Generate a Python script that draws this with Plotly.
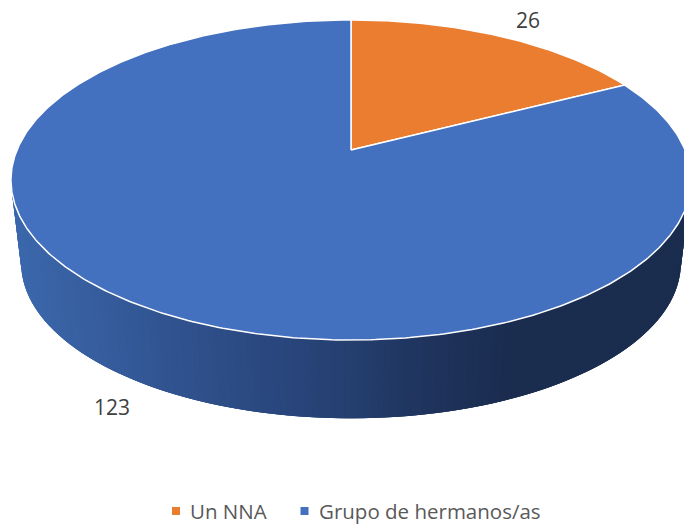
import numpy as np
import plotly.graph_objects as go

categories = ["Un NNA", "Grupo de hermanos/as"]
values = [26, 123]
slice_colors = ["#EB7D31", "#4371C0"]

W, H = 684, 527
CX, CY = 351, 150          # pie apex on the page
A, B, K = 334, 154.4, 0.1875   # perspective of the pie disc
DEPTH, SHRINK = 84, 0.97   # the lower rim of the pie wall

def project(theta, scale=1.0, dy=0.0):
    s, c = np.sin(theta), np.cos(theta)
    d = 1 + K * c
    return CX + scale * A * s / d, CY + dy - scale * B * c / d

def wall_color(x):
    xs = [12, 110, 200, 290, 351, 420, 480, 520, 684]
    rs = [60, 54, 47, 41, 37, 32, 28, 26, 26]
    gs = [105, 92, 80, 70, 63, 53, 47, 45, 45]
    bs = [173, 156, 139, 124, 111, 95, 84, 79, 79]
    return "rgb(%d,%d,%d)" % (np.interp(x, xs, rs), np.interp(x, xs, gs), np.interp(x, xs, bs))

fig = go.Figure()

# wall, as overlapping strips painted from right to left so no seams show
edge = np.arccos(-K)
angles = np.linspace(edge, 2 * np.pi - edge, 171)
for i in range(len(angles) - 1):
    ts = angles[i:i + 4]
    xt, yt = project(ts)
    xb, yb = project(ts[::-1], SHRINK, DEPTH)
    col = wall_color((xt[:2].mean() + xb[-2:].mean()) / 2)
    fig.add_trace(go.Scatter(
        x=np.r_[xt, xb], y=np.r_[yt, yb], mode="lines", fill="toself",
        fillcolor=col, line=dict(width=0),
        hoverinfo="skip", showlegend=False))

# top of the pie
total = sum(values)
start = 0.0
for name, v, col in zip(categories, values, slice_colors):
    sweep = 2 * np.pi * v / total
    ts = np.linspace(start, start + sweep, max(int(v * 4), 40))
    x, y = project(ts)
    fig.add_trace(go.Scatter(
        x=np.r_[CX, x, CX], y=np.r_[CY, y, CY], mode="lines", fill="toself",
        fillcolor=col, line=dict(color="white", width=1.5),
        name=name, hoverinfo="name", showlegend=False))
    start += sweep

# legend row
key_x = [176, 304.5]
fig.add_trace(go.Scatter(
    x=key_x, y=[511, 511], mode="markers",
    marker=dict(symbol="square", size=8, color=slice_colors),
    hoverinfo="skip", showlegend=False))

annotations = [dict(x=kx + 12, y=511, text=name, showarrow=False, xanchor="left",
                    font=dict(family="Open Sans", size=20.5, color="#595959"))
               for kx, name in zip(key_x, categories)]
annotations += [dict(x=x, y=y, text=str(v), showarrow=False,
                     font=dict(family="Open Sans", size=21, color="#404040"))
                for x, y, v in zip([528, 112], [20, 407], values)]

fig.update_layout(
    width=W, height=H, margin=dict(l=0, r=0, t=0, b=0),
    paper_bgcolor="white", plot_bgcolor="white", showlegend=False,
    xaxis=dict(range=[0, W], visible=False, fixedrange=True),
    yaxis=dict(range=[H, 0], visible=False, fixedrange=True),
    annotations=annotations,
)
fig.write_html("out.html", config=dict(displayModeBar=False),
               post_script="document.body.style.margin='0';document.documentElement.style.overflow='hidden';")
